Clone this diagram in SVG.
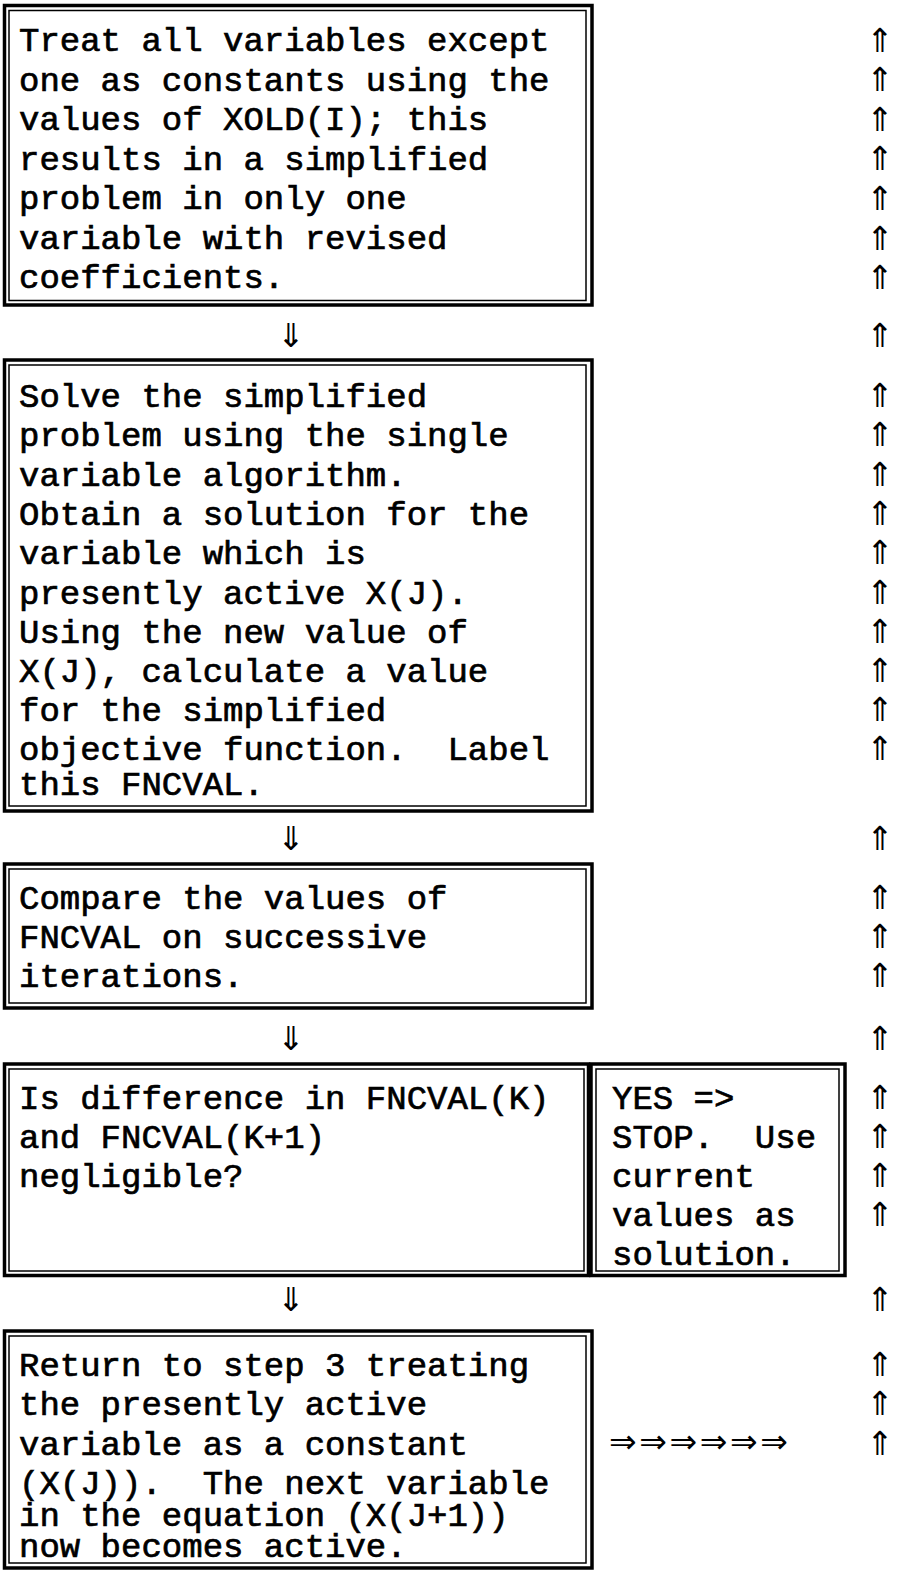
<svg xmlns="http://www.w3.org/2000/svg" width="897" height="1570" viewBox="0 0 897 1570">
<style>
.o{fill:none;stroke:#000;stroke-width:3.5}
.i{fill:none;stroke:#000;stroke-width:1.5}
.t{font-family:"Liberation Mono","Courier New",monospace;font-size:34px;fill:#000;stroke:#000;stroke-width:0.7}
.a{font-family:"DejaVu Sans",sans-serif;font-size:33px;fill:#000;text-anchor:middle}
.r{font-family:"DejaVu Sans",sans-serif;font-size:33px;fill:#000;letter-spacing:2.6px}
</style>
<rect width="897" height="1570" fill="#fff"/>
<g id="node1">
<rect class="o" x="4.5" y="5.5" width="587.5" height="299.5"/>
<rect class="i" x="9" y="10.5" width="577" height="290"/>
<text class="t" x="19"><tspan x="19" y="51">Treat all variables except</tspan><tspan x="19" y="90.5">one as constants using the</tspan><tspan x="19" y="130">values of XOLD(I); this</tspan><tspan x="19" y="169.5">results in a simplified</tspan><tspan x="19" y="209">problem in only one</tspan><tspan x="19" y="248.5">variable with revised</tspan><tspan x="19" y="288">coefficients.</tspan></text>
</g>
<g id="node2">
<rect class="o" x="4.5" y="360" width="587.5" height="451"/>
<rect class="i" x="9" y="365" width="577" height="441"/>
<text class="t"><tspan x="19" y="407">Solve the simplified</tspan><tspan x="19" y="446">problem using the single</tspan><tspan x="19" y="486">variable algorithm.</tspan><tspan x="19" y="525">Obtain a solution for the</tspan><tspan x="19" y="564">variable which is</tspan><tspan x="19" y="604">presently active X(J).</tspan><tspan x="19" y="643">Using the new value of</tspan><tspan x="19" y="682">X(J), calculate a value</tspan><tspan x="19" y="721">for the simplified</tspan><tspan x="19" y="760" xml:space="preserve">objective function.  Label</tspan><tspan x="19" y="795">this FNCVAL.</tspan></text>
</g>
<g id="node3">
<rect class="o" x="4.5" y="864" width="587.5" height="144"/>
<rect class="i" x="9" y="869" width="577" height="134"/>
<text class="t"><tspan x="19" y="909">Compare the values of</tspan><tspan x="19" y="948">FNCVAL on successive</tspan><tspan x="19" y="987">iterations.</tspan></text>
</g>
<g id="node4">
<rect class="o" x="4.5" y="1064" width="584" height="211.5"/>
<rect class="i" x="9" y="1069" width="575" height="202"/>
<text class="t"><tspan x="19" y="1109">Is difference in FNCVAL(K)</tspan><tspan x="19" y="1148">and FNCVAL(K+1)</tspan><tspan x="19" y="1187">negligible?</tspan></text>
</g>
<g id="node5">
<rect class="o" x="591" y="1064" width="254" height="211.5"/>
<rect class="i" x="596" y="1069" width="243" height="202"/>
<text class="t" xml:space="preserve"><tspan x="612" y="1109">YES =&gt;</tspan><tspan x="612" y="1148">STOP.  Use</tspan><tspan x="612" y="1187">current</tspan><tspan x="612" y="1226">values as</tspan><tspan x="612" y="1265">solution.</tspan></text>
</g>
<g id="node6">
<rect class="o" x="4.5" y="1331" width="587.5" height="237"/>
<rect class="i" x="9" y="1336" width="577" height="227"/>
<text class="t" xml:space="preserve"><tspan x="19" y="1376">Return to step 3 treating</tspan><tspan x="19" y="1415">the presently active</tspan><tspan x="19" y="1455">variable as a constant</tspan><tspan x="19" y="1494">(X(J)).  The next variable</tspan><tspan x="19" y="1526">in the equation (X(J+1))</tspan><tspan x="19" y="1557">now becomes active.</tspan></text>
</g>
<g id="connectors">
<g class="a" transform="translate(0,1)">
<text x="291" y="346">⇓</text>
<text x="291" y="849">⇓</text>
<text x="291" y="1049">⇓</text>
<text x="291" y="1310">⇓</text>
</g>
<g class="a" transform="translate(0,1)">
<text x="880" y="51">⇑</text><text x="880" y="90">⇑</text><text x="880" y="130">⇑</text><text x="880" y="169">⇑</text><text x="880" y="209">⇑</text><text x="880" y="249">⇑</text><text x="880" y="288">⇑</text>
<text x="880" y="346">⇑</text>
<text x="880" y="406">⇑</text><text x="880" y="445">⇑</text><text x="880" y="485">⇑</text><text x="880" y="524">⇑</text><text x="880" y="563">⇑</text><text x="880" y="603">⇑</text><text x="880" y="642">⇑</text><text x="880" y="681">⇑</text><text x="880" y="720">⇑</text><text x="880" y="759">⇑</text>
<text x="880" y="849">⇑</text>
<text x="880" y="908">⇑</text><text x="880" y="947">⇑</text><text x="880" y="986">⇑</text>
<text x="880" y="1049">⇑</text>
<text x="880" y="1108">⇑</text><text x="880" y="1147">⇑</text><text x="880" y="1186">⇑</text><text x="880" y="1225">⇑</text>
<text x="880" y="1310">⇑</text>
<text x="880" y="1375">⇑</text><text x="880" y="1414">⇑</text><text x="880" y="1454">⇑</text>
</g>
<text class="r" x="609" y="1453">⇒⇒⇒⇒⇒⇒</text>
</g>
</svg>
